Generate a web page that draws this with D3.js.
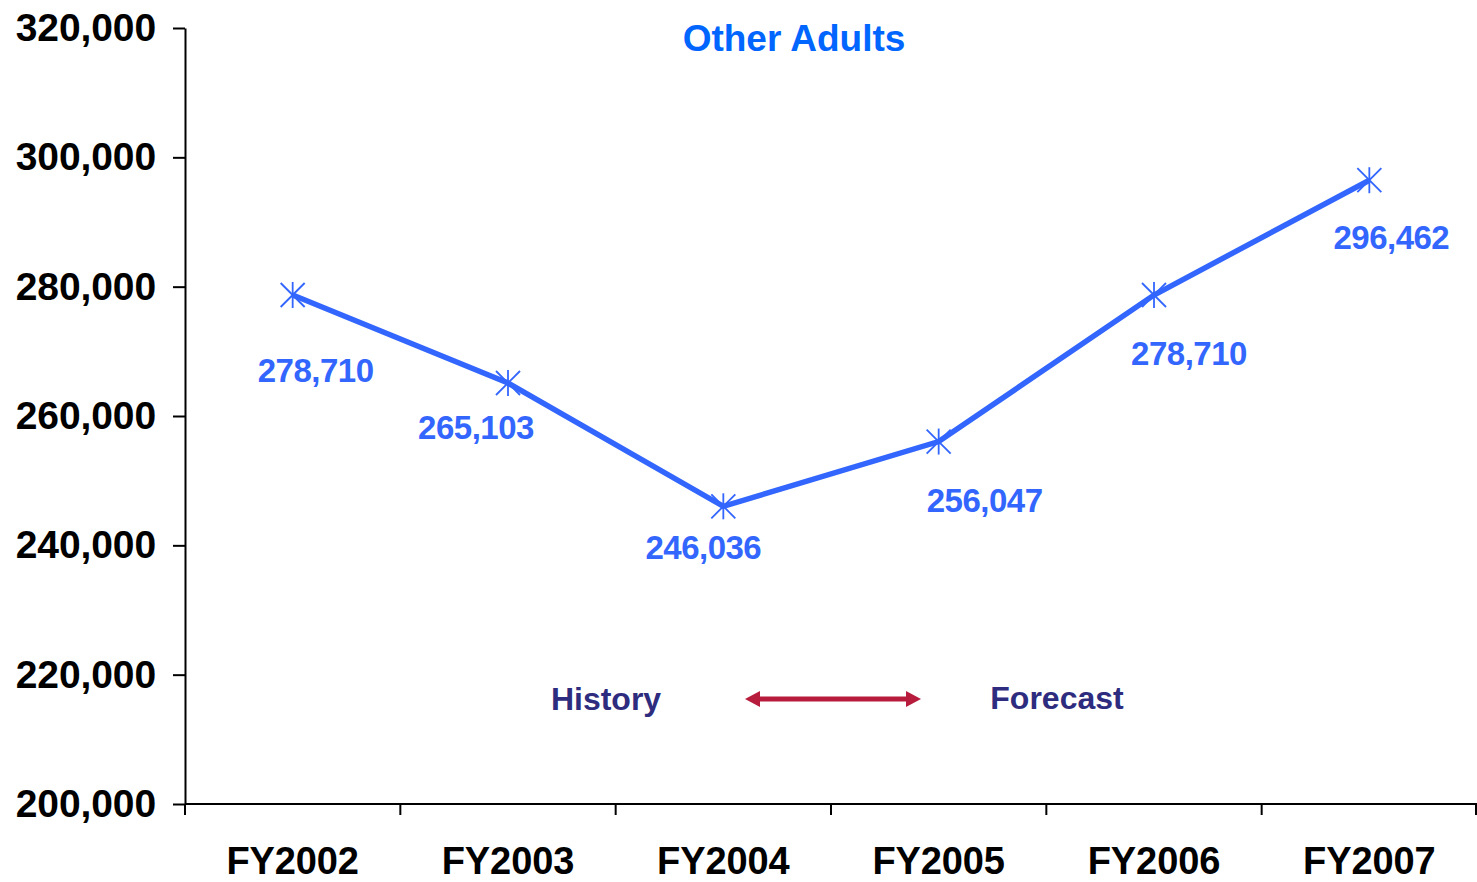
<!DOCTYPE html>
<html>
<head>
<meta charset="utf-8">
<script src="https://cdn.jsdelivr.net/npm/d3@7"></script>
<style>
  html, body { margin: 0; padding: 0; background: #fff; }
  svg { display: block; font-family: "Liberation Sans", Arial, sans-serif; }
</style>
</head>
<body>
<svg id="chart" width="1477" height="882"></svg>
<script>
// Fiscal years and enrolment counts for "Other Adults"
const years = ["FY2002", "FY2003", "FY2004", "FY2005", "FY2006", "FY2007"];
const values = [278710, 265103, 246036, 256047, 278710, 296462];
const yTicks = [200000, 220000, 240000, 260000, 280000, 300000, 320000];
const chartTitle = "Other Adults";
const periodLabels = ["History", "Forecast"];

// Where each value label sits relative to its point (layout only)
const labelOffsets = [[23, 76], [-32, 45], [-20, 42], [46, 59], [35, 59], [22, 58]];

const svg = d3.select("#chart");
const plot = { left: 185, right: 1477, top: 28, bottom: 804 };

const x = d3.scaleBand().domain(years).range([plot.left, plot.right]);
const y = d3.scaleLinear().domain([200000, 320000]).range([plot.bottom, plot.top]);
const fmt = d3.format(",");

// Y axis
const yAxis = svg.append("g")
  .attr("transform", `translate(${plot.left},0)`)
  .call(d3.axisLeft(y).tickValues(yTicks).tickFormat(fmt).tickSize(12).tickSizeOuter(0).tickPadding(17));
yAxis.select(".domain").attr("stroke", "#000").attr("stroke-width", 2);
yAxis.selectAll(".tick line").attr("stroke", "#000").attr("stroke-width", 2);
yAxis.selectAll(".tick text")
  .attr("font-size", 39).attr("font-weight", "bold").attr("fill", "#000")
  .attr("font-family", "Liberation Sans, Arial, sans-serif")
  .attr("letter-spacing", -0.1);

// X axis with ticks on the band boundaries
const xg = svg.append("g").attr("transform", `translate(0,${plot.bottom})`);
xg.append("line").attr("x1", plot.left).attr("x2", plot.right).attr("stroke", "#000").attr("stroke-width", 2);
const boundaries = years.map(d => x(d)).concat([plot.right - 1]);
xg.selectAll("line.tk").data(boundaries).enter().append("line")
  .attr("class", "tk")
  .attr("x1", d => d).attr("x2", d => d).attr("y1", 0).attr("y2", 11)
  .attr("stroke", "#000").attr("stroke-width", 2);
xg.selectAll("text").data(years).enter().append("text")
  .attr("x", d => x(d) + x.bandwidth() / 2)
  .attr("y", 70)
  .attr("text-anchor", "middle")
  .attr("font-size", 38).attr("font-weight", "bold").attr("fill", "#000")
  .attr("letter-spacing", -0.1)
  .text(d => d);

// Title
svg.append("text")
  .attr("x", 794).attr("y", 51)
  .attr("text-anchor", "middle")
  .attr("font-size", 37).attr("font-weight", "bold").attr("fill", "#0066FF")
  .text(chartTitle);

// Data line
const pts = years.map((d, i) => ({ year: d, value: values[i], i }));
const cx = d => x(d.year) + x.bandwidth() / 2;
svg.append("path")
  .datum(pts)
  .attr("fill", "none").attr("stroke", "#3366FF").attr("stroke-width", 5.5)
  .attr("stroke-linejoin", "miter")
  .attr("d", d3.line().x(cx).y(d => y(d.value)));

// Asterisk markers
const m = svg.append("g").selectAll("g").data(pts).enter().append("g")
  .attr("transform", d => `translate(${cx(d)},${y(d.value)})`)
  .attr("stroke", "#3366FF").attr("stroke-width", 1.8);
m.append("line").attr("x1", 0).attr("x2", 0).attr("y1", -13).attr("y2", 13);
m.append("line").attr("x1", -12).attr("x2", 12).attr("y1", -12).attr("y2", 12);
m.append("line").attr("x1", -12).attr("x2", 12).attr("y1", 12).attr("y2", -12);

// Value labels
svg.append("g").selectAll("text").data(pts).enter().append("text")
  .attr("x", d => cx(d) + labelOffsets[d.i][0])
  .attr("y", d => y(d.value) + labelOffsets[d.i][1] + 11)
  .attr("text-anchor", "middle")
  .attr("font-size", 33).attr("font-weight", "bold").attr("fill", "#3366FF")
  .attr("letter-spacing", -0.5)
  .text(d => fmt(d.value));

// History / Forecast annotation
svg.append("text").attr("x", 606).attr("y", 710).attr("text-anchor", "middle")
  .attr("font-size", 32).attr("font-weight", "bold").attr("fill", "#2E2C7E")
  .text(periodLabels[0]);
svg.append("text").attr("x", 1057).attr("y", 709).attr("text-anchor", "middle")
  .attr("font-size", 32).attr("font-weight", "bold").attr("fill", "#2E2C7E")
  .text(periodLabels[1]);

const arrowColor = "#B81C3C";
const ay = 699, ax1 = 745, ax2 = 921;
svg.append("line").attr("x1", ax1 + 12).attr("x2", ax2 - 12).attr("y1", ay).attr("y2", ay)
  .attr("stroke", arrowColor).attr("stroke-width", 5);
svg.append("path").attr("fill", arrowColor)
  .attr("d", `M${ax1},${ay} L${ax1 + 15},${ay - 8} L${ax1 + 15},${ay + 8} Z`);
svg.append("path").attr("fill", arrowColor)
  .attr("d", `M${ax2},${ay} L${ax2 - 15},${ay - 8} L${ax2 - 15},${ay + 8} Z`);
</script>
</body>
</html>
